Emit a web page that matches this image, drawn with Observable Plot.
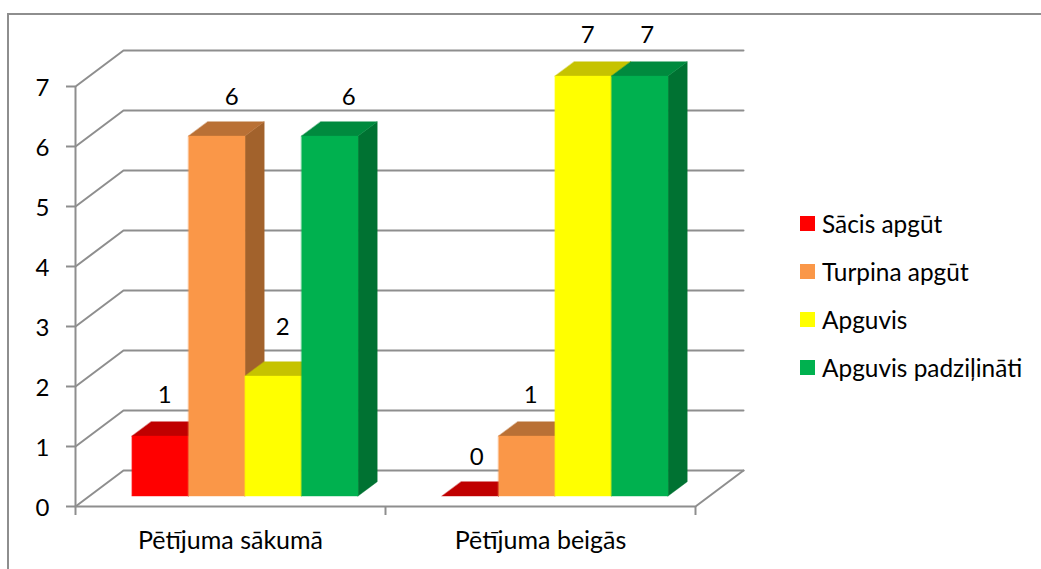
<!DOCTYPE html>
<html lang="lv">
<head>
<meta charset="utf-8">
<script src="https://cdn.jsdelivr.net/npm/d3@7"></script>
<script src="https://cdn.jsdelivr.net/npm/@observablehq/plot@0.6"></script>
<style>
  html, body { margin: 0; padding: 0; background: #fff; }
  body { width: 1041px; height: 569px; overflow: hidden; position: relative; font-family: Lato, sans-serif; color: #000; }
  #frame { position: absolute; left: 7px; top: 13px; right: 0; bottom: 0; border-left: 2px solid #8e8e8e; border-top: 2px solid #8e8e8e; }
  #chart { position: absolute; left: 0; top: 0; }
  #chart svg { display: block; }
  #legend { position: absolute; left: 800px; top: 199px; font-size: 24.4px; }
  #legend div { height: 48px; display: flex; align-items: center; white-space: nowrap; }
  #legend i { display: block; width: 15px; height: 15px; margin-right: 7px; }
</style>
</head>
<body>
<div id="frame"></div>
<div id="chart"></div>
<div id="legend"></div>
<script>
// Data
const categories = ["Pētījuma sākumā", "Pētījuma beigās"];
const seriesNames = ["Sācis apgūt", "Turpina apgūt", "Apguvis", "Apguvis padziļināti"];
const startValues = [1, 6, 2, 6];
const endValues = [0, 1, 7, 7];
const yTicks = [0, 1, 2, 3, 4, 5, 6, 7];

// Styles
const frontColors = ["#ff0000", "#fa9748", "#ffff00", "#00b14f"];
const topColors = ["#c00000", "#b97035", "#c6c300", "#008a3e"];
const sideColors = ["#a00000", "#a2622c", "#b0b000", "#007232"];
const gridColor = "#8e8e8e";

// Oblique projection: one depth unit moves this far along x (categories) and y (values)
const depthX = 48 / 310, depthY = 0.6;
const project = (x, y, d) => ({x: x + d * depthX, y: y + d * depthY});

const groupStart = 0.1375, barWidth = 56.5 / 310, depthFront = 0.29, depthBack = 0.69;
const labelRise = [[0.86, 0.82, 0.98, 0.82], [0.82, 0.86, 0.86, 0.86]];
const labelShift = [[4.5, 15, 9.5, 19], [6.5, 4, 4.5, 7.5]].map(r => r.map(v => v / 310));

const face = (points, fill) => Plot.line(points, {x: "x", y: "y", fill, stroke: fill, strokeWidth: 0.4, curve: "linear-closed"});

const marks = [];

// Floor and wall grid
const grid = {stroke: gridColor, strokeWidth: 2};
marks.push(Plot.line([project(0, 0, 0), project(2, 0, 0), project(2, 0, 1)], {x: "x", y: "y", ...grid}));
for (const v of yTicks) {
  marks.push(Plot.line([project(0, v, 0), project(0, v, 1), project(2, v, 1)], {x: "x", y: "y", ...grid}));
}

// Axes
marks.push(Plot.ruleX([0], {y1: 0, y2: 7, ...grid}));
marks.push(Plot.axisY({ticks: yTicks, tickSize: 9, stroke: gridColor, strokeWidth: 2, tickFormat: () => "", label: null}));
marks.push(Plot.text(yTicks, {x: () => 0, y: d => d, dx: -33, dy: 2, text: d => String(d), fontSize: 24, fill: "#000"}));
marks.push(Plot.axisX({ticks: [0, 1, 2], tickSize: 9, stroke: gridColor, strokeWidth: 2, tickFormat: () => "", label: null}));
marks.push(Plot.text(categories, {x: (d, i) => i + 0.5, y: () => 0, dy: 34, text: d => d, fontSize: 25, fill: "#000"}));

// Bars
[startValues, endValues].forEach((values, g) => {
  values.forEach((v, s) => {
    const x0 = g + groupStart + s * barWidth, x1 = x0 + barWidth;
    marks.push(face([project(x1, 0, depthFront), project(x1, 0, depthBack), project(x1, v, depthBack), project(x1, v, depthFront)], sideColors[s]));
    marks.push(face([project(x0, v, depthFront), project(x1, v, depthFront), project(x1, v, depthBack), project(x0, v, depthBack)], topColors[s]));
    if (v > 0) marks.push(face([project(x0, 0, depthFront), project(x1, 0, depthFront), project(x1, v, depthFront), project(x0, v, depthFront)], frontColors[s]));
  });
});

// Data labels
[startValues, endValues].forEach((values, g) => {
  marks.push(Plot.text(values, {
    x: (d, s) => project(g + groupStart + (s + 0.5) * barWidth, 0, depthFront).x + labelShift[g][s],
    y: (d, s) => d + labelRise[g][s],
    text: d => String(d),
    fontSize: 24,
    fill: "#000"
  }));
});

const chart = Plot.plot({
  width: 1041,
  height: 569,
  marginLeft: 75,
  marginRight: 346,
  marginTop: 86,
  marginBottom: 63,
  style: {background: "transparent", fontFamily: "Lato, sans-serif", overflow: "visible"},
  x: {domain: [0, 2]},
  y: {domain: [0, 7]},
  marks
});
document.getElementById("chart").append(chart);

// Legend
const legend = d3.select("#legend");
seriesNames.forEach((name, i) => {
  const row = legend.append("div");
  row.append("i").style("background", frontColors[i]);
  row.append("span").text(name);
});
</script>
</body>
</html>
